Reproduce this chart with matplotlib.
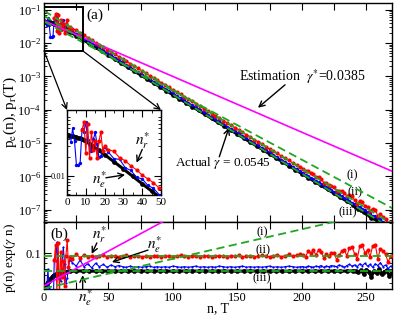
import numpy as np
import matplotlib
matplotlib.use('Agg')
import matplotlib.pyplot as plt
from matplotlib.patches import Rectangle, ConnectionPatch
from matplotlib.ticker import (MultipleLocator, LogLocator, NullFormatter,
                               FixedLocator, FuncFormatter)

plt.rcParams['font.family'] = ['Liberation Serif', 'DejaVu Serif']
plt.rcParams['mathtext.fontset'] = 'stix'

# actual decay rate, used for p(n) exp(gamma n) in panel (b)
GAMMA = 0.0545

# compensated values p(n) exp(gamma n) (b) / inset
red_n = [8, 9, 10, 11, 12, 13, 14, 15, 16, 17, 18, 19, 20] \
    + list(range(22, 200, 3)) + list(range(201, 270, 2))
red_c = [0.085, 0.121, 0.041, 0.125, 0.038, 0.103, 0.057, 0.084, 0.047, 0.093,
         0.135, 0.072, 0.092,
         0.088, 0.097, 0.090, 0.095, 0.092, 0.094, 0.091, 0.093, 0.095, 0.092,
         0.093, 0.094, 0.092, 0.093, 0.095, 0.092, 0.093, 0.094, 0.092, 0.093,
         0.092, 0.094, 0.093, 0.092, 0.094, 0.093, 0.092, 0.093, 0.095, 0.093,
         0.092, 0.094, 0.093, 0.092, 0.093, 0.094, 0.092, 0.093, 0.094, 0.093,
         0.092, 0.094, 0.093, 0.095, 0.092, 0.093, 0.094, 0.092, 0.093, 0.095,
         0.093, 0.092, 0.094, 0.096, 0.092, 0.094, 0.097, 0.093, 0.095, 0.098,
         0.096, 0.092, 0.105, 0.099, 0.107, 0.095, 0.108, 0.103, 0.090, 0.097,
         0.093, 0.101, 0.100, 0.086, 0.095, 0.104, 0.107, 0.094, 0.112, 0.115,
         0.098, 0.087, 0.118, 0.120, 0.100, 0.107, 0.092, 0.118, 0.121, 0.088,
         0.110, 0.105, 0.097, 0.081, 0.094]

blue_n = list(range(2, 21)) + list(range(22, 200, 3)) + list(range(201, 270, 2))
blue_c = [0.039, 0.069, 0.045, 0.020, 0.021, 0.024, 0.088, 0.083, 0.128, 0.068,
          0.055, 0.052, 0.083, 0.114, 0.077, 0.050, 0.056, 0.072, 0.086,
          0.080, 0.074, 0.085, 0.073, 0.078, 0.071, 0.079, 0.073, 0.077, 0.072,
          0.076, 0.073, 0.075, 0.073, 0.072, 0.074, 0.072, 0.073, 0.072, 0.073,
          0.074, 0.072, 0.073, 0.072, 0.073, 0.072, 0.074, 0.073, 0.072, 0.073,
          0.072, 0.073, 0.074, 0.072, 0.073, 0.072, 0.073, 0.072, 0.074, 0.073,
          0.072, 0.073, 0.072, 0.073, 0.074, 0.072, 0.073, 0.072, 0.073, 0.072,
          0.073, 0.074, 0.072, 0.073, 0.072, 0.073, 0.074, 0.073, 0.072, 0.073,
          0.073, 0.072, 0.074, 0.073, 0.072, 0.074, 0.073, 0.075, 0.072, 0.074,
          0.073, 0.075, 0.074, 0.073, 0.076, 0.074, 0.072, 0.075, 0.077, 0.074,
          0.076, 0.073, 0.078, 0.075, 0.079, 0.074, 0.077, 0.072, 0.078, 0.075,
          0.080, 0.073, 0.076, 0.070, 0.074]

black_n = [0, 1, 2, 3, 4, 5, 6, 7, 8, 9, 10, 12, 14, 17, 20] \
    + list(range(25, 241, 5)) + list(range(242, 271, 2))
black_c = [0.045, 0.047, 0.049, 0.051, 0.053, 0.055, 0.057, 0.059, 0.060, 0.061,
           0.062, 0.063, 0.064, 0.065, 0.0655,
           0.066, 0.0662, 0.066, 0.0658, 0.066, 0.0661, 0.066, 0.0659, 0.066,
           0.0662, 0.066, 0.0659, 0.066, 0.0661, 0.066, 0.0658, 0.066, 0.0661,
           0.066, 0.066, 0.0662, 0.0659, 0.066, 0.0661, 0.066, 0.0659, 0.066,
           0.0662, 0.066, 0.066, 0.0659, 0.0661, 0.066, 0.0658, 0.066, 0.0662,
           0.066, 0.0659, 0.066, 0.0661, 0.066, 0.0657, 0.066, 0.0663,
           0.066, 0.064, 0.067, 0.062, 0.068, 0.065, 0.058, 0.066, 0.063, 0.069,
           0.061, 0.065, 0.067, 0.059, 0.064]

# exponential fits A exp(-k n): (i), (ii), (iii) and the estimation gamma*
fit_amp = {'i': 0.0443, 'ii': 0.093, 'iii': 0.066, 'est': 0.047}
fit_rate = {'i': 0.0477, 'ii': 0.0545, 'iii': 0.0545, 'est': 0.0385}

GREEN = '#1fa81f'
MAGENTA = '#ff00ff'


def draw_series(a, comp, fits=True):
    # comp=True -> panel (b) values, otherwise p(n)
    blue_ms = 1.6 if comp else 2.4
    for n, c, col, lw, ms in ((black_n, black_c, 'black', 2.2, 3.4),
                              (blue_n, blue_c, 'blue', 0.8, blue_ms),
                              (red_n, red_c, 'red', 0.8, 3.0)):
        n = np.asarray(n, float)
        y = np.asarray(c) if comp else np.asarray(c) * np.exp(-GAMMA * n)
        a.plot(n, y, color=col, lw=lw, marker='o', ms=ms, mew=0, zorder=3)
    if not fits:
        return
    nn = np.array([0.0, 275.0])
    for key in ('i', 'ii', 'iii', 'est'):
        y = fit_amp[key] * np.exp(-fit_rate[key] * nn)
        if comp:
            y = y * np.exp(GAMMA * nn)
        if key == 'est':
            a.plot(nn, y, color=MAGENTA, lw=1.2, zorder=4)
        else:
            a.plot(nn, y, color=GREEN, lw=1.3, ls=(0, (4.5, 2.5)), zorder=5)


fig = plt.figure(figsize=(3.95, 3.16), dpi=100)
W, H = 395.0, 316.0
ax = fig.add_axes([44 / W, 1 - 222 / H, 348 / W, 219 / H])
axb = fig.add_axes([44 / W, 1 - 289 / H, 348 / W, 67 / H], sharex=ax)
axin = fig.add_axes([67 / W, 1 - 195 / H, 94 / W, 85 / H])

draw_series(ax, False)
draw_series(axb, True)
draw_series(axin, False, fits=False)

ax.set_yscale('log')
ax.set_ylim(4.3e-8, 0.16)
ax.set_xlim(0, 270)
ax.yaxis.set_major_locator(LogLocator(base=10, numticks=20))
ax.yaxis.set_minor_locator(LogLocator(base=10, subs=np.arange(2, 10), numticks=20))
ax.yaxis.set_minor_formatter(NullFormatter())
ax.xaxis.set_major_locator(MultipleLocator(25))
ax.xaxis.set_major_formatter(FuncFormatter(lambda v, p: '%d' % v if v % 50 == 0 else ''))
ax.tick_params(labelbottom=False)

axb.set_yscale('log')
axb.set_ylim(0.0437, 0.204)
axb.yaxis.set_major_locator(FixedLocator([0.1]))
axb.yaxis.set_major_formatter(FuncFormatter(lambda v, p: '0.1'))
axb.yaxis.set_minor_locator(LogLocator(base=10, subs=np.arange(2, 10), numticks=20))
axb.yaxis.set_minor_formatter(NullFormatter())

axin.set_yscale('log')
axin.set_xlim(0, 50)
axin.set_ylim(0.0049, 0.116)
axin.xaxis.set_major_locator(MultipleLocator(10))
axin.xaxis.set_minor_locator(MultipleLocator(5))
axin.yaxis.set_major_locator(FixedLocator([0.01]))
axin.yaxis.set_major_formatter(FuncFormatter(lambda v, p: '0.01'))
axin.yaxis.set_minor_locator(LogLocator(base=10, subs=np.arange(2, 10), numticks=20))
axin.yaxis.set_minor_formatter(NullFormatter())

for a in (ax, axb, axin):
    a.tick_params(which='both', direction='in', top=True, right=True)
    a.tick_params(which='major', length=5, width=0.8)
    a.tick_params(which='minor', length=2.5, width=0.6)
    for s in a.spines.values():
        s.set_linewidth(1.0)
ax.tick_params(axis='y', labelsize=9, pad=2)
axb.tick_params(labelsize=9, pad=2)
axin.tick_params(axis='x', labelsize=8, pad=2)
axin.tick_params(axis='y', labelsize=6, pad=1)

# zoom box and arrows to the inset
ax.add_patch(Rectangle((0, 0.0059), 30, 0.123 - 0.0059, fill=False, lw=1.4,
                       ec='black', zorder=6))
for xa, xb in ((0, 0), (30, 1)):
    con = ConnectionPatch(xyA=(xa, 0.0059), coordsA=ax.transData,
                          xyB=(xb, 1), coordsB=axin.transAxes,
                          arrowstyle='->', lw=0.9, color='black')
    fig.add_artist(con)

arrow = dict(arrowstyle='->', lw=1.0, color='black', shrinkA=0, shrinkB=0)

ax.text(39.6, 0.071, '(a)', fontsize=11, ha='center', va='center')
ax.text(200, 9.8e-4, 'Estimation  $\\gamma^{*}$=0.0385', fontsize=10,
        ha='center', va='center')
ax.annotate('', xy=(166, 1.15e-4), xytext=(187, 5.6e-4), arrowprops=arrow)
ax.text(139, 2.6e-6, 'Actual $\\gamma$ = 0.0545', fontsize=9.5,
        ha='center', va='center')
ax.annotate('', xy=(143.5, 2.9e-5), xytext=(136, 3.9e-6), arrowprops=arrow)
ax.text(239, 1.1e-6, '(i)', fontsize=9, ha='center', va='center')
ax.text(241, 3.4e-7, '(ii)', fontsize=9, ha='center', va='center')
ax.text(236, 8.6e-8, '(iii)', fontsize=9, ha='center', va='center')

axin.text(17.6, 0.0086, '$n^{*}_{e}$', fontsize=11, ha='center', va='center')
axin.annotate('', xy=(30.9, 0.0104), xytext=(20.7, 0.0093), arrowprops=arrow)
axin.text(40, 0.0375, '$n^{*}_{r}$', fontsize=11, ha='center', va='center')
axin.annotate('', xy=(37, 0.0163), xytext=(40, 0.0267), arrowprops=arrow)

axb.text(11.6, 0.155, '(b)', fontsize=11, ha='center', va='center')
axb.text(169, 0.162, '(i)', fontsize=9, ha='center', va='center')
axb.text(170, 0.107, '(ii)', fontsize=9, ha='center', va='center')
axb.text(169, 0.056, '(iii)', fontsize=9, ha='center', va='center')
axb.text(43, 0.151, '$n^{*}_{r}$', fontsize=11, ha='center', va='center')
axb.annotate('', xy=(37, 0.098), xytext=(41, 0.126), arrowprops=arrow)
axb.text(86, 0.12, '$n^{*}_{e}$', fontsize=11, ha='center', va='center')
axb.annotate('', xy=(52.7, 0.081), xytext=(80.7, 0.107), arrowprops=arrow)
axb.text(32, 0.0355, '$n^{*}_{e}$', fontsize=11, ha='center', va='center', clip_on=False)
axb.annotate('', xy=(30, 0.06), xytext=(30, 0.0437), arrowprops=arrow,
             annotation_clip=False)

fig.text(10 / W, 1 - 112 / H, 'p$_\\mathrm{e}$(n), p$_\\mathrm{r}$(T)', rotation=90,
         ha='center', va='center', fontsize=11)
fig.text(10 / W, 1 - 258 / H, 'p(n) exp($\\gamma$ n)', rotation=90,
         ha='center', va='center', fontsize=9.5)
fig.text(218 / W, 1 - 309 / H, 'n, T', ha='center', va='center', fontsize=10)

fig.savefig('out.png', dpi=100)
